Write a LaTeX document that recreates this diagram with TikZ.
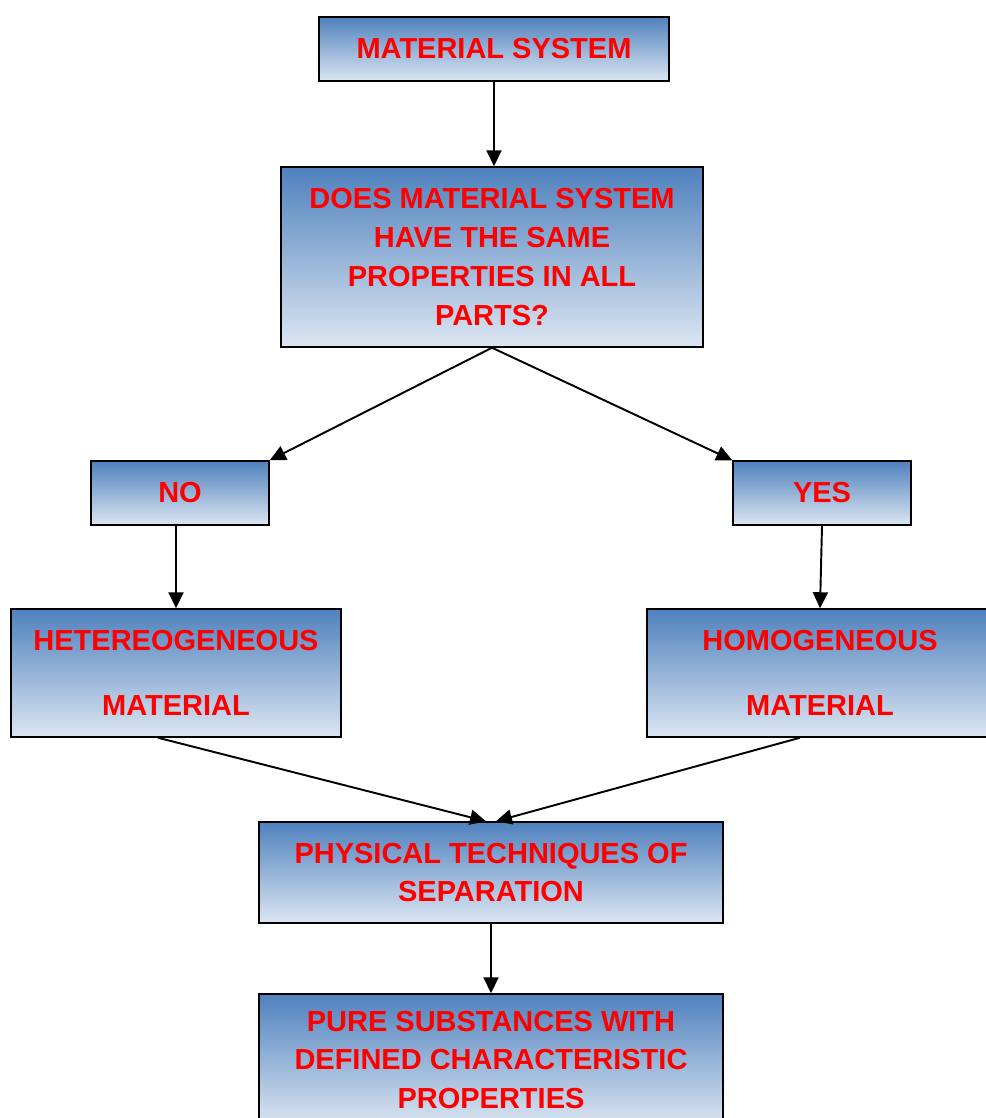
\documentclass[tikz,border=0pt]{standalone}
\usepackage{fontspec}
\setmainfont{Liberation Sans}
\definecolor{boxtop}{RGB}{79, 129, 189}
\definecolor{boxbottom}{RGB}{220, 230, 242}
\definecolor{labelred}{RGB}{255, 0, 0}
\usetikzlibrary{arrows.meta, positioning, calc}
\tikzset{
    flowbox/.style={draw=black, line width=0.85pt, rectangle, inner sep=0pt, align=center,
        top color=boxtop, bottom color=boxbottom, text=labelred,
        font=\fontsize{16.5}{22.1}\selectfont\bfseries},
    smallbox/.style={flowbox, minimum width=3.56cm, minimum height=1.28cm},
    wideflow/.style={flowbox, minimum width=9.28cm},
    flowarrow/.style={-{Triangle[length=0.32cm, width=0.3cm]}, line width=1.1pt, draw=black},
}

\begin{document}
\begin{tikzpicture}[x=0.02cm, y=-0.02cm]
    \useasboundingbox (0,0) rectangle (986,1118);

    % Top question
    \node[flowbox, minimum width=7cm, minimum height=1.28cm] (ms) at (494,49) {MATERIAL SYSTEM};
    \node[flowbox, minimum width=8.44cm, minimum height=3.6cm] (q) at (492,257)
          {DOES MATERIAL SYSTEM\\HAVE THE SAME\\PROPERTIES IN ALL\\PARTS?};

    % Answers
    \node[smallbox] (no) at (180,493) {NO};
    \node[smallbox] (yes) at (822,493) {YES};

    % Material types
    \node[flowbox, minimum width=6.6cm, minimum height=2.56cm] (het) at (176,673)
          {HETEREOGENEOUS\\[15.3pt]MATERIAL};
    \node[flowbox, minimum width=6.92cm, minimum height=2.56cm] (hom) at (820,673)
          {HOMOGENEOUS\\[15.3pt]MATERIAL};

    % Separation
    \node[wideflow, minimum height=2.02cm] (phys) at (491,872.5)
          {PHYSICAL TECHNIQUES OF\\SEPARATION};
    \node[wideflow, minimum height=2.64cm] (pure) at (491,1060)
          {PURE SUBSTANCES WITH\\DEFINED CHARACTERISTIC\\PROPERTIES};

    % Connections
    \draw[flowarrow] (ms.south) -- (ms.south |- q.north);
    \draw[flowarrow] (q.south) -- (no.north east);
    \draw[flowarrow] (q.south) -- (yes.north west);
    \draw[flowarrow] (het.north |- no.south) -- (het.north);
    \draw[flowarrow] (yes.south) -- (hom.north);
    \draw[flowarrow] ([xshift=-0.36cm]het.south) -- ([xshift=-0.1cm]phys.north);
    \draw[flowarrow] ([xshift=-0.4cm]hom.south) -- ([xshift=0.1cm]phys.north);
    \draw[flowarrow] (phys) -- (pure);
\end{tikzpicture}
\end{document}
